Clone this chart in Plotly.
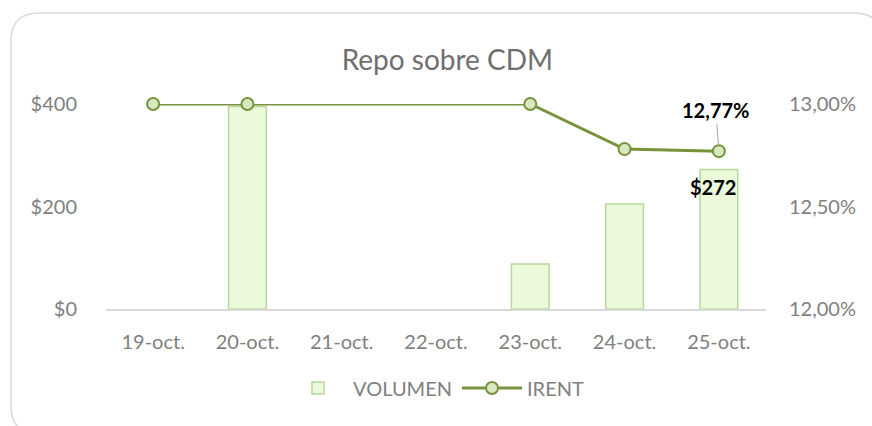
import plotly.graph_objects as go

categories = ["19-oct.", "20-oct.", "21-oct.", "22-oct.", "23-oct.", "24-oct.", "25-oct."]
volumen = [None, 395, None, None, 88, 205, 272]
irent = [0.13, 0.13, None, None, 0.13, 0.1278, 0.1277]

FONT = "Lato, 'Open Sans', sans-serif"
GRAY = "#7f7f7f"
LINE = "#77933c"

fig = go.Figure()
fig.add_trace(go.Bar(
    x=categories, y=volumen, name="VOLUMEN", yaxis="y",
    marker=dict(color="#ebfadb", line=dict(color="#b9d99c", width=1.5)),
    width=0.4,
))
fig.add_trace(go.Scatter(
    x=categories, y=irent, name="IRENT", yaxis="y2", mode="lines+markers",
    connectgaps=True, cliponaxis=False,
    line=dict(color=LINE, width=3),
    marker=dict(size=12, color="#d8e8bf", line=dict(color=LINE, width=2)),
))

# data labels for the last point
last = len(categories) - 1
fig.add_annotation(
    x=categories[last], y=irent[last], yref="y2", xref="x",
    text="<b>" + f"{irent[last]*100:.2f}".replace(".", ",") + "%</b>",
    showarrow=True, arrowhead=0, arrowcolor="#a6a6a6", arrowwidth=1,
    ax=-3, ay=-41, standoff=6,
    font=dict(family=FONT, size=20, color="#000000"),
)
fig.add_annotation(
    x=categories[last], y=volumen[last], yref="y", xref="x",
    text="<b>$" + str(volumen[last]) + "</b>", showarrow=False,
    yanchor="top", yshift=-3, xshift=-6,
    font=dict(family=FONT, size=20, color="#000000"),
)

fig.update_layout(
    width=872, height=426,
    paper_bgcolor="white", plot_bgcolor="white",
    separators=",.",
    margin=dict(l=106, r=106, t=104, b=117, autoexpand=False),
    title=dict(text="Repo sobre CDM", x=0.513, xanchor="center", y=1 - 60 / 426,
               yanchor="middle", font=dict(family=FONT, size=28, color="#6f6f6f")),
    font=dict(family=FONT, size=20, color=GRAY),
    xaxis=dict(showline=True, linecolor="#d9d9d9", linewidth=1.5, showgrid=False,
               ticks="outside", ticklen=14, tickcolor="rgba(0,0,0,0)",
               tickfont=dict(family=FONT, size=20, color=GRAY)),
    yaxis=dict(range=[0, 400], dtick=200, tickprefix="$", showgrid=False, zeroline=False,
               ticks="outside", ticklen=24, tickcolor="rgba(0,0,0,0)",
               tickfont=dict(family=FONT, size=20, color=GRAY)),
    yaxis2=dict(range=[0.12, 0.13], dtick=0.005, tickformat=".2%", overlaying="y",
                side="right", showgrid=False, zeroline=False,
                ticks="outside", ticklen=18, tickcolor="rgba(0,0,0,0)",
                tickfont=dict(family=FONT, size=20, color=GRAY)),
    legend=dict(orientation="h", x=0.5, xanchor="center", y=(309 - 388) / 205,
                yanchor="middle", font=dict(family=FONT, size=20, color=GRAY),
                itemwidth=60, traceorder="normal"),
    showlegend=True,
)

# chart area border (rounded rectangle, partly outside the frame)
def px(xp):
    return (xp - 106) / 660
def py(yp):
    return (309 - yp) / 205
x0, x1, y0, y1, r = 11, 882, 13, 434, 28
path = (f"M {px(x0)},{py(y0 + r)} Q {px(x0)},{py(y0)} {px(x0 + r)},{py(y0)} "
        f"L {px(x1 - r)},{py(y0)} Q {px(x1)},{py(y0)} {px(x1)},{py(y0 + r)} "
        f"L {px(x1)},{py(y1 - r)} Q {px(x1)},{py(y1)} {px(x1 - r)},{py(y1)} "
        f"L {px(x0 + r)},{py(y1)} Q {px(x0)},{py(y1)} {px(x0)},{py(y1 - r)} Z")
fig.add_shape(type="path", path=path, xref="paper", yref="paper",
              line=dict(color="#d9d9d9", width=1.5), layer="below")

fig.write_html("out.html", config={"displayModeBar": False},
               post_script="document.body.style.margin='0';")
